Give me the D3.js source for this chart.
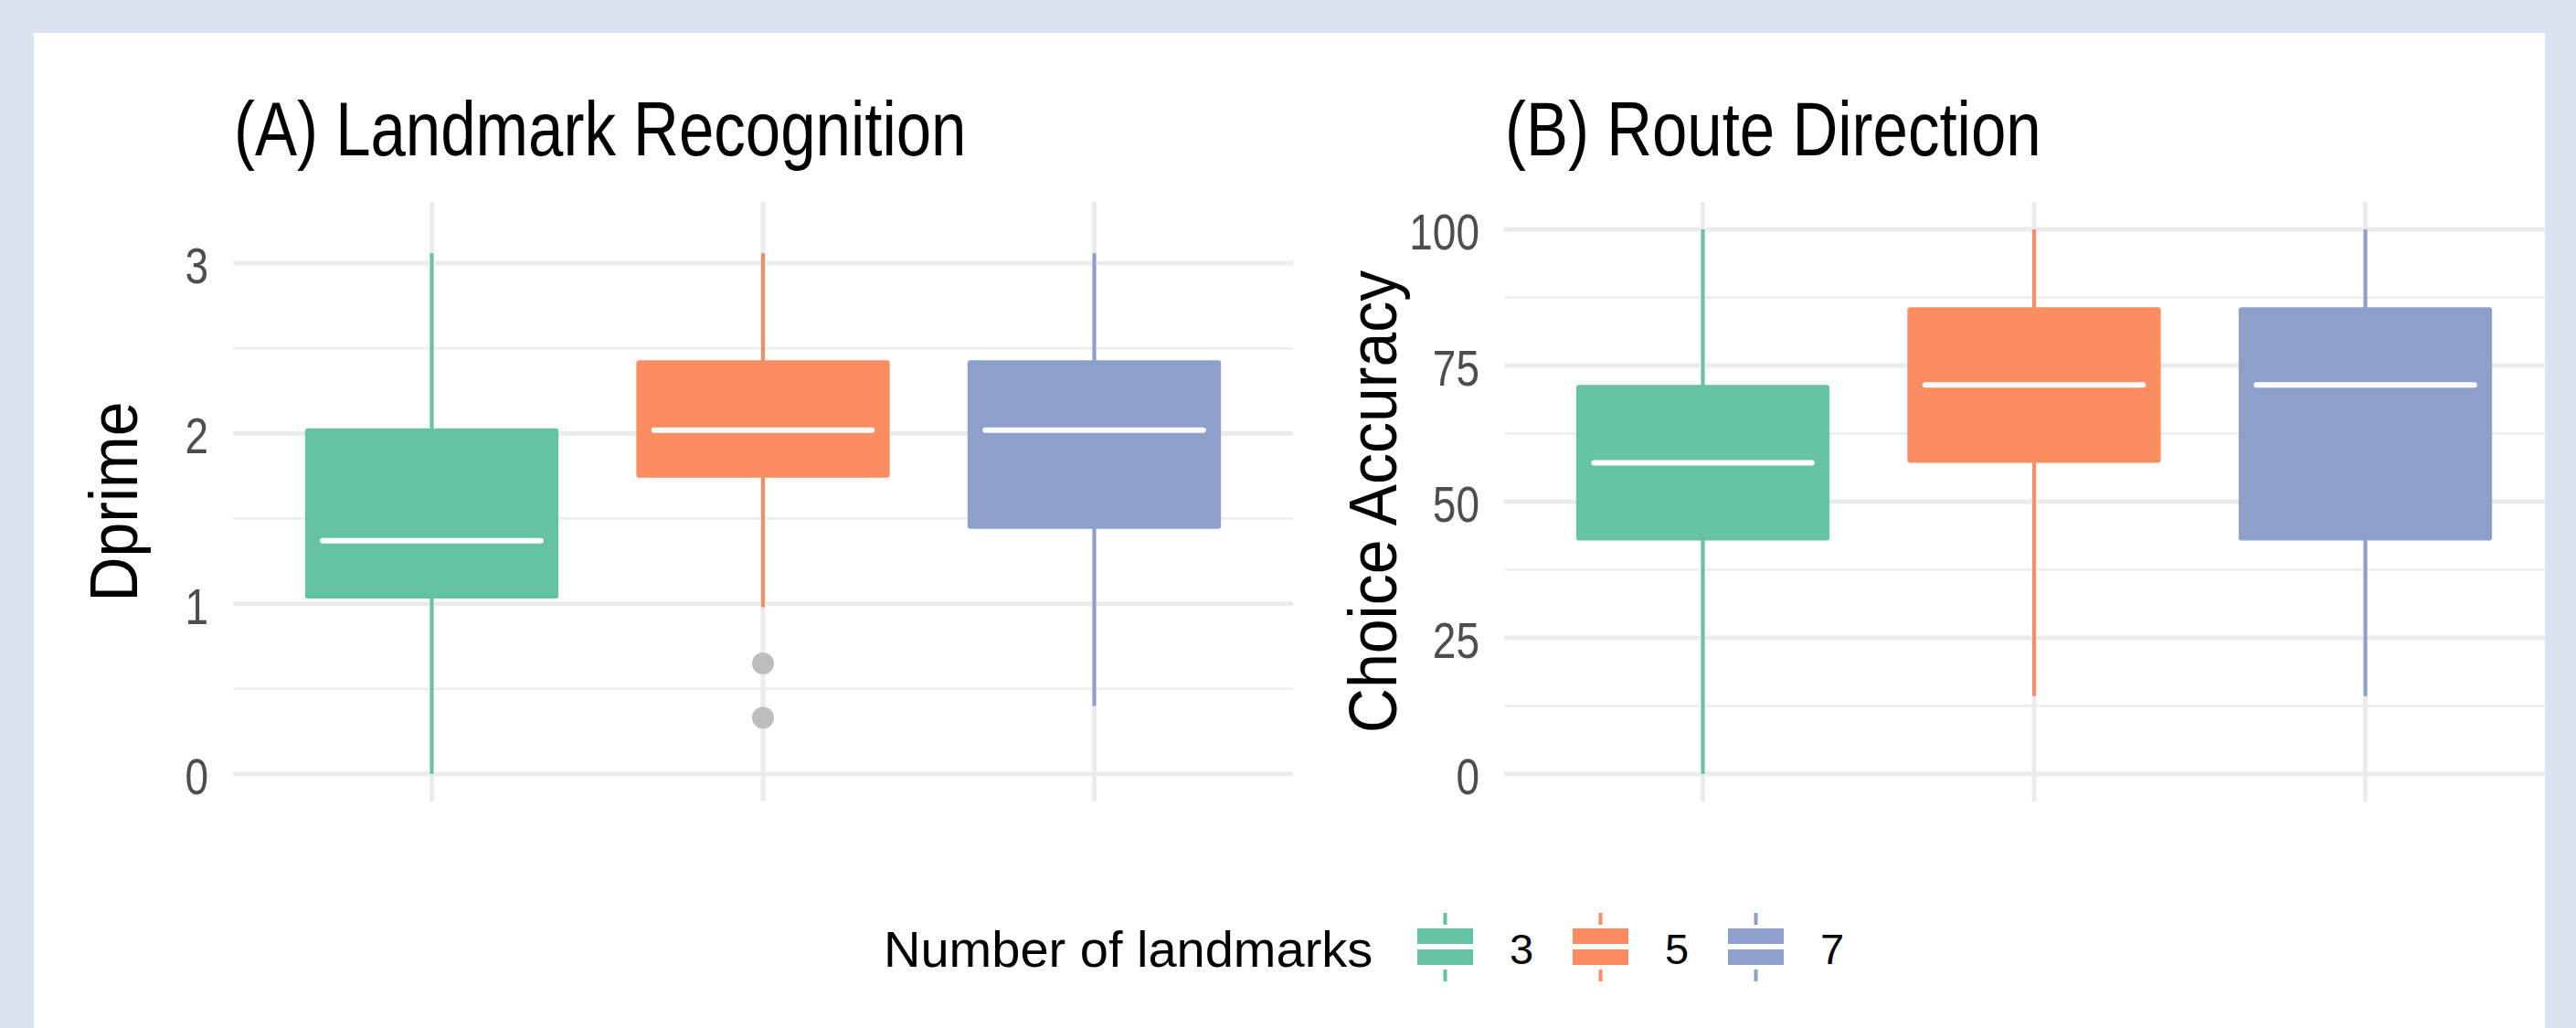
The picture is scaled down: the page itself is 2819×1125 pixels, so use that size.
<!DOCTYPE html>
<html lang="en">
<head>
    <meta charset="UTF-8">
    <title>Landmark recognition and route direction</title>
    <script src="https://d3js.org/d3.v7.min.js"></script>
</head>
<style>
    body {
        margin: 0;
        padding: 0;
        background: #d9e4f0;
    }

    svg text {
        font-family: "Liberation Sans", Arial, sans-serif;
    }
</style>
<body>
<div class="chart-container"></div>

<script>
  /** DATA **/
  var groups = ['3', '5', '7'];
  var groupColors = ['#66c2a5', '#fc8d62', '#8da0cb'];

  /** (A) dprime box stats per number of landmarks */
  var dprimeLow = [0, 0.98, 0.40];
  var dprimeQ1 = [1.03, 1.74, 1.44];
  var dprimeMedian = [1.37, 2.02, 2.02];
  var dprimeQ3 = [2.03, 2.43, 2.43];
  var dprimeHigh = [3.06, 3.06, 3.06];
  var dprimeOutliers = [[], [0.65, 0.33], []];
  var dprimeTicks = [0, 1, 2, 3];

  /** (B) choice accuracy box stats */
  var accuracyLow = [0, 14.29, 14.29];
  var accuracyQ1 = [42.86, 57.14, 42.86];
  var accuracyMedian = [57.14, 71.43, 71.43];
  var accuracyQ3 = [71.43, 85.71, 85.71];
  var accuracyHigh = [100, 100, 100];
  var accuracyOutliers = [[], [], []];
  var accuracyTicks = [0, 25, 50, 75, 100];

  /** LAYOUT */
  var width = 2819;
  var height = 1125;
  var panelTop = 221;
  var panelBottom = 877;
  var panelWidth = 1160;

  var svg_selection = d3.select('.chart-container')
    .append('svg')
    .attr('width', width)
    .attr('height', height);

  svg_selection.append('defs')
    .append('clipPath')
    .attr('id', 'page-clip')
    .append('rect')
    .attr('x', 37).attr('y', 36)
    .attr('width', 2748).attr('height', height - 36);

  var page = svg_selection.append('g').attr('clip-path', 'url(#page-clip)');

  page.append('rect')
    .attr('x', 37).attr('y', 36)
    .attr('width', 2748).attr('height', height - 36)
    .attr('fill', '#ffffff');

  /** text helper: font size plus a vertical stretch, the reference text is a bit tall */
  function addText(parent, str, x, y, size, stretch, anchor, rotate, color) {
    var t = 'translate(' + x + ',' + y + ')';
    if (rotate) { t += ' rotate(' + rotate + ')'; }
    t += ' scale(1,' + stretch + ')';
    return parent.append('text')
      .attr('transform', t)
      .attr('text-anchor', anchor || 'start')
      .attr('font-size', size)
      .attr('fill', color || '#000000')
      .text(str);
  }

  function buildPanel(opts) {
    var left = opts.left;
    var g = page.append('g').classed('panel', true);

    var xScale = d3.scalePoint()
      .domain(groups)
      .range([left, left + panelWidth])
      .padding(0.6);
    var step = xScale.step();

    var yScale = d3.scaleLinear()
      .domain(opts.domain)
      .range([panelBottom, panelTop]);

    /** minor grid lines sit half way between the major ticks */
    var minor = [];
    for (var i = 0; i < opts.ticks.length - 1; i++) {
      minor.push((opts.ticks[i] + opts.ticks[i + 1]) / 2);
    }

    g.append('g').selectAll('line')
      .data(minor)
      .enter().append('line')
      .attr('x1', left).attr('x2', left + panelWidth)
      .attr('y1', function (d) { return yScale(d); })
      .attr('y2', function (d) { return yScale(d); })
      .attr('stroke', '#ededed')
      .attr('stroke-width', 2.5);

    g.append('g').selectAll('line')
      .data(opts.ticks)
      .enter().append('line')
      .attr('x1', left).attr('x2', left + panelWidth)
      .attr('y1', function (d) { return yScale(d); })
      .attr('y2', function (d) { return yScale(d); })
      .attr('stroke', '#ebebeb')
      .attr('stroke-width', 5);

    g.append('g').selectAll('line')
      .data(groups)
      .enter().append('line')
      .attr('x1', function (d) { return xScale(d); })
      .attr('x2', function (d) { return xScale(d); })
      .attr('y1', panelTop).attr('y2', panelBottom)
      .attr('stroke', '#ebebeb')
      .attr('stroke-width', 5);

    /** tick labels */
    opts.ticks.forEach(function (tick) {
      addText(g, String(tick), left - 27, yScale(tick) + 22, 46, 1.2, 'end', 0, '#4d4d4d');
    });

    /** axis title */
    addText(g, opts.yTitle, opts.titleX, (panelTop + panelBottom) / 2, 68, 1.1, 'middle', -90);

    /** plot title */
    addText(g, opts.title, left + 1, 170, 69, 1.2, 'start');

    var boxWidth = step * 0.765;

    var boxes = g.append('g').selectAll('g')
      .data(groups)
      .enter().append('g');

    boxes.append('line')
      .attr('x1', function (d) { return xScale(d); })
      .attr('x2', function (d) { return xScale(d); })
      .attr('y1', function (d, i) { return yScale(opts.low[i]); })
      .attr('y2', function (d, i) { return yScale(opts.high[i]); })
      .attr('stroke', function (d, i) { return groupColors[i]; })
      .attr('stroke-width', 4);

    boxes.append('rect')
      .attr('x', function (d) { return xScale(d) - boxWidth / 2; })
      .attr('y', function (d, i) { return yScale(opts.q3[i]); })
      .attr('width', boxWidth)
      .attr('height', function (d, i) { return yScale(opts.q1[i]) - yScale(opts.q3[i]); })
      .attr('rx', 3)
      .attr('fill', function (d, i) { return groupColors[i]; });

    boxes.append('line')
      .attr('x1', function (d) { return xScale(d) - boxWidth * 0.43; })
      .attr('x2', function (d) { return xScale(d) + boxWidth * 0.43; })
      .attr('y1', function (d, i) { return yScale(opts.median[i]); })
      .attr('y2', function (d, i) { return yScale(opts.median[i]); })
      .attr('stroke', '#ffffff')
      .attr('stroke-width', 6)
      .attr('stroke-linecap', 'round');

    boxes.each(function (d, i) {
      d3.select(this).selectAll('circle')
        .data(opts.outliers[i])
        .enter().append('circle')
        .attr('cx', xScale(d))
        .attr('cy', function (v) { return yScale(v); })
        .attr('r', 12)
        .attr('fill', '#bdbdbd');
    });
  }

  buildPanel({
    left: 255,
    domain: [-0.161, 3.36],
    ticks: dprimeTicks,
    low: dprimeLow, q1: dprimeQ1, median: dprimeMedian, q3: dprimeQ3, high: dprimeHigh,
    outliers: dprimeOutliers,
    title: '(A) Landmark Recognition',
    yTitle: 'Dprime',
    titleX: 150
  });

  buildPanel({
    left: 1646,
    domain: [-5.03, 105.04],
    ticks: accuracyTicks,
    low: accuracyLow, q1: accuracyQ1, median: accuracyMedian, q3: accuracyQ3, high: accuracyHigh,
    outliers: accuracyOutliers,
    title: '(B) Route Direction',
    yTitle: 'Choice Accuracy',
    titleX: 1528
  });

  /** LEGEND */
  var legend = page.append('g').classed('legend', true);
  addText(legend, 'Number of landmarks', 967, 1058, 56, 1.0, 'start');

  var keyLeft = 1551;
  var keyStep = 170;
  var keyWidth = 61;

  var keys = legend.selectAll('g.key')
    .data(groups)
    .enter().append('g')
    .classed('key', true)
    .attr('transform', function (d, i) {
      return 'translate(' + (keyLeft + keyStep * i) + ',0)';
    });

  keys.append('line')
    .attr('x1', keyWidth / 2).attr('x2', keyWidth / 2)
    .attr('y1', 999).attr('y2', 1012)
    .attr('stroke', function (d, i) { return groupColors[i]; })
    .attr('stroke-width', 4);
  keys.append('line')
    .attr('x1', keyWidth / 2).attr('x2', keyWidth / 2)
    .attr('y1', 1061).attr('y2', 1074)
    .attr('stroke', function (d, i) { return groupColors[i]; })
    .attr('stroke-width', 4);
  keys.append('rect')
    .attr('x', 0).attr('y', 1016)
    .attr('width', keyWidth).attr('height', 40)
    .attr('fill', function (d, i) { return groupColors[i]; });
  keys.append('line')
    .attr('x1', 0).attr('x2', keyWidth)
    .attr('y1', 1036).attr('y2', 1036)
    .attr('stroke', '#ffffff')
    .attr('stroke-width', 6);
  keys.each(function (d) {
    addText(d3.select(this), d, keyWidth + 40, 1055, 47, 1.0, 'start');
  });
</script>
</body>
</html>
